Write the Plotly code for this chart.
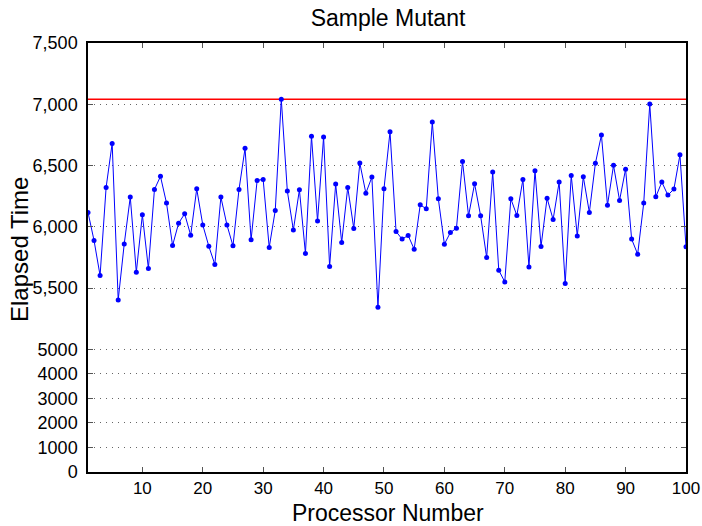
import plotly.graph_objects as go

processors = list(range(1, 101))
elapsed = [
    6118, 5889, 5603, 6322, 6681, 5404, 5861, 6243, 5630, 6098,
    5660, 6305, 6412, 6194, 5848, 6030, 6106, 5932, 6310, 6016,
    5842, 5693, 6243, 6016, 5845, 6305, 6641, 5894, 6379, 6387,
    5832, 6134, 7041, 6292, 5975, 6302, 5783, 6739, 6047, 6733,
    5676, 6349, 5873, 6322, 5987, 6520, 6275, 6406, 5344, 6310,
    6776, 5962, 5900, 5930, 5818, 6180, 6147, 6855, 6229, 5859,
    5954, 5989, 6534, 6090, 6352, 6090, 5750, 6447, 5646, 5551,
    6229, 6093, 6387, 5673, 6458, 5840, 6234, 6060, 6365, 5537,
    6420, 5926, 6409, 6118, 6518, 6749, 6177, 6502, 6216, 6471,
    5900, 5777, 6194, 7002, 6245, 6365, 6259, 6308, 6588, 5837,
]
x_ticks = [10, 20, 30, 40, 50, 60, 70, 80, 90, 100]
y_tick_values = [0, 1000, 2000, 3000, 4000, 5000, 5500, 6000, 6500, 7000, 7500]
y_tick_labels = ["0", "1000", "2000", "3000", "4000", "5000",
                 "5,500", "6,000", "6,500", "7,000", "7,500"]

BREAK = 5000
LOW_SCALE = 0.2  # compressed lower part of the broken axis


def tf(v):
    return v * LOW_SCALE if v < BREAK else BREAK * LOW_SCALE + (v - BREAK)


ymax = max(elapsed)
font = "Liberation Sans, Arial, Helvetica, sans-serif"

W, H = 702, 526
L, R, T, B = 88, 16, 43, 54
pw, ph = W - L - R, H - T - B

fig = go.Figure()
fig.add_trace(go.Scatter(
    x=[processors[0], processors[-1]], y=[tf(ymax), tf(ymax)],
    mode="lines", line=dict(color="#ff0000", width=1.5),
    hoverinfo="skip", showlegend=False))
fig.add_trace(go.Scatter(
    x=processors, y=[tf(v) for v in elapsed],
    mode="lines+markers", line=dict(color="#0000ff", width=1),
    marker=dict(color="#0000ff", size=5),
    customdata=elapsed, hovertemplate="%{x}: %{customdata}<extra></extra>",
    showlegend=False))

fig.update_layout(
    width=W, height=H,
    margin=dict(l=L, r=R, t=T, b=B),
    paper_bgcolor="white", plot_bgcolor="white",
    font=dict(family=font, size=18, color="black"),
    title=dict(text="Sample Mutant", xref="paper", x=(388 - L) / pw,
               xanchor="center", yref="container", y=1 - 18 / H,
               yanchor="middle",
               font=dict(size=23, family=font, color="black")),
    xaxis=dict(
        range=[1, 100], tickvals=x_ticks, ticks="inside", ticklen=5,
        tickcolor="#555555", showline=True, linecolor="black", linewidth=1.5,
        mirror="allticks", showgrid=False, zeroline=False, automargin=False,
        tickfont=dict(size=17)),
    yaxis=dict(
        range=[0, tf(7500)], tickvals=[tf(v) for v in y_tick_values],
        ticktext=y_tick_labels, ticks="inside", ticklen=5,
        tickcolor="#555555", ticklabelstandoff=5,
        showline=True, linecolor="black", linewidth=1.5, mirror="allticks",
        showgrid=True, gridcolor="#666666", griddash="1px,5px", gridwidth=1,
        zeroline=False, automargin=False,
        tickfont=dict(size=18)),
    annotations=[
        dict(text="Processor Number", xref="paper", yref="paper",
             x=(388 - L) / pw, y=(H - B - 513) / ph, xanchor="center",
             yanchor="middle", showarrow=False,
             font=dict(size=23, family=font, color="black")),
        dict(text="Elapsed Time", xref="paper", yref="paper",
             x=(19 - L) / pw, y=(H - B - 250) / ph, xanchor="center",
             yanchor="middle", textangle=-90, showarrow=False,
             font=dict(size=24, family=font, color="black")),
    ],
)

fig.write_html("out.html")
